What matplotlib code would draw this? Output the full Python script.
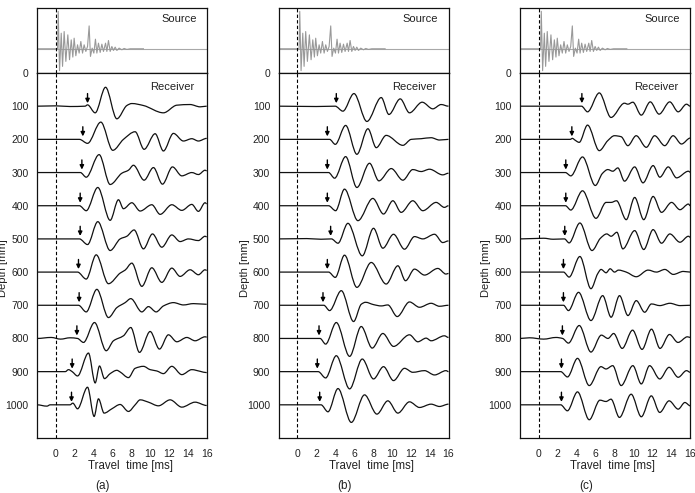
import numpy as np
import matplotlib.pyplot as plt
from matplotlib.path import Path
from matplotlib.patches import PathPatch

plt.rcParams['font.family'] = ['Liberation Sans', 'DejaVu Sans']

# profundidades de los receptores (mm)
depths = [100, 200, 300, 400, 500, 600, 700, 800, 900, 1000]

# señal de la fuente (tiempo ms, amplitud relativa)
src_t = [-2, 0.18, 0.25, 0.39, 0.57, 0.71, 0.88, 1.06, 1.27, 1.45, 1.63, 1.80, 1.94, 2.12,
         2.30, 2.47, 2.65, 2.83, 3.00, 3.18, 3.36, 3.53, 3.67, 3.85, 4.03, 4.20, 4.35,
         4.52, 4.70, 4.88, 5.05, 5.27, 5.41, 5.58, 5.76, 5.94, 6.11, 6.29, 6.47, 6.71,
         7.00, 7.24, 7.53, 7.88, 9.29]
src_a = [0, 0, 113, -66, 47, -53, 52, -38, 42, -33, 27, -25, 32, -21,
         12, -13, 22, -13, 12, -8, 7, 69, -23, 2, -13, 29, -13,
         17, -11, 14, -8, 17, -8, 25, -8, 7, -5, 5, -5, 2,
         -3, 1, -2, 0, 0]

# (a) tiempos de llegada y trazas
arr_a = [3.36, 2.86, 2.76, 2.58, 2.58, 2.40, 2.47, 2.23, 1.73, 1.66]
t_a = [
    [-2, 0, 1.5, 3.1, 3.36, 4.17, 5.27, 6.47, 7.53, 8.06, 9.29, 11.41, 12.83, 14.24, 15.3, 16],
    [-2, 2.5, 3.36, 4.77, 6.04, 7.17, 8.41, 9.36, 10.53, 11.41, 12.47, 13.53, 14.42, 15.12, 16],
    [-2, 2.6, 3.22, 4.59, 5.76, 7.0, 7.7, 8.23, 9.36, 10.35, 11.31, 12.37, 13.36, 14.42, 15.12, 15.83, 16],
    [-2, 2.5, 3.22, 4.45, 5.76, 6.64, 7.17, 8.06, 8.94, 10.18, 11.06, 12.30, 13.36, 14.42, 15.12, 15.83, 16],
    [-2, 2.5, 3.36, 4.45, 5.76, 6.82, 7.53, 8.30, 9.29, 10.25, 11.24, 12.30, 13.18, 14.06, 15.12, 15.83, 16],
    [-2, 2.3, 3.22, 4.28, 5.58, 6.82, 7.35, 8.06, 9.12, 10.18, 11.24, 12.30, 13.18, 14.24, 15.12, 15.83, 16],
    [-2, 2.4, 3.22, 4.35, 5.58, 6.47, 7.35, 7.95, 9.12, 9.82, 10.64, 11.41, 12.47, 13.53, 14.59, 16],
    [-2, -0.5, 0.5, 1.5, 2.3, 2.93, 4.10, 5.34, 6.11, 7.17, 7.95, 8.87, 10.0, 10.99, 11.94, 12.83, 13.89, 14.77, 15.83, 16],
    [-2, 1.0, 1.34, 1.73, 2.30, 3.46, 4.17, 4.63, 5.16, 5.76, 6.47, 6.82, 7.70, 8.41, 9.29, 10.0, 10.71, 11.41, 12.30, 13.36, 14.42, 15.30, 16],
    [-2, -0.95, -0.6, 1.5, 1.80, 2.30, 3.36, 4.06, 4.52, 5.12, 5.94, 6.82, 7.70, 8.41, 8.94, 9.82, 10.88, 12.12, 13.36, 14.77, 16],
]
amp_a = [
    [0, 1, -1, 0, 4, -20, 57, -38, 2, 8, 2, -20, 3, 5, -2, 0],
    [0, 0, -12, 52, -33, 0, 23, -30, 17, -35, 18, -5, 2, -5, 3],
    [0, 0, -14, 54, -36, -2, 7, 22, -23, 15, -35, 17, -10, 0, -6, 7, 5],
    [0, 0, -15, 55, -44, 18, -9, 9, -16, 3, -26, 3, -14, 4, -17, 9, 6],
    [0, 0, -17, 52, -35, 0, 8, 27, -30, 15, -25, 12, -8, 0, -5, 8, 6],
    [0, 0, -21, 52, -35, -3, 6, 27, -43, 13, -31, 12, -13, 7, -8, 7, 5],
    [0, 0, -20, 48, -37, -7, 8, 20, -20, -4, -20, -2, 8, 1, 5, 3],
    [0, 3, -2, 2, 0, -12, 48, -37, -7, 8, 33, -42, 21, -32, 11, -10, 3, -7, 5, 4],
    [0, 0, 6, 0, -13, 56, -34, 17, -21, -6, 4, -1, -18, 10, 16, 6, 2, -6, 16, -9, 6, 1, -3],
    [0, -4, 0, 0, 5, -12, 53, -35, 18, -25, -12, 1, -20, 0, 15, 8, -3, 15, -7, 8, -2],
]

# (b)
arr_b = [4.12, 3.17, 3.17, 3.17, 3.52, 3.17, 2.71, 2.29, 2.11, 2.36]
t_b = [
    [-2, 2, 4.0, 4.82, 5.99, 7.36, 8.88, 9.69, 10.89, 11.87, 13.21, 14.34, 15.22, 16],
    [-2, 3.41, 4.01, 5.11, 6.30, 7.47, 8.35, 9.40, 11.17, 12.05, 13.10, 14.16, 15.04, 16],
    [-2, 3.3, 3.94, 5.11, 6.30, 7.64, 8.63, 9.94, 11.17, 12.22, 13.10, 13.99, 15.39, 16],
    [-2, 3.3, 4.05, 4.99, 6.41, 7.99, 9.12, 10.11, 10.99, 12.22, 13.28, 14.69, 15.57, 16],
    [-2, 1.0, 2.5, 3.6, 4.30, 5.35, 6.87, 8.06, 9.05, 10.18, 11.34, 12.40, 13.28, 14.52, 15.39, 16],
    [-2, 3.3, 4.01, 4.99, 6.30, 7.82, 9.40, 10.64, 11.45, 12.40, 13.46, 14.87, 15.74, 16],
    [-2, 2.8, 3.41, 4.65, 5.95, 6.76, 7.22, 8.06, 8.88, 9.58, 10.57, 11.87, 12.93, 14.16, 15.04, 16],
    [-2, 2.4, 2.99, 4.12, 5.53, 6.76, 7.92, 9.05, 10.18, 11.87, 12.75, 13.63, 14.16, 15.57, 16],
    [-2, 2.2, 2.99, 4.12, 5.53, 6.87, 8.06, 9.12, 10.18, 11.34, 12.22, 13.46, 14.52, 15.74, 16],
    [-2, 2.5, 3.24, 4.30, 5.71, 7.11, 8.42, 9.58, 10.64, 11.87, 12.93, 14.16, 15.04, 16],
]
amp_b = [
    [0, -1, 0, -15, 38, -46, 26, -25, 22, -20, 12, -8, 5, 0],
    [0, 0, -15, 42, -45, 32, -25, 12, -18, 0, 2, 5, -2, 0],
    [0, 0, -17, 48, -45, 28, -25, 12, -23, 9, 3, 10, -7, -2],
    [0, 0, -15, 50, -45, 22, -25, 15, -20, 15, -15, 10, -5, 0],
    [0, 1, -1, 0, -13, 47, -51, 32, -28, 14, -31, 7, 0, 14, -11, -6],
    [0, 0, -16, 51, -46, 29, -36, 19, -26, 9, -9, 11, -6, -4],
    [0, 0, -16, 44, -49, 3, 9, 2, -2, 1, -34, 10, -6, 6, -3, 0],
    [0, 0, -17, 48, -54, 36, -29, 15, -24, 11, -10, 1, -7, 8, 3],
    [0, 0, -19, 48, -52, 38, -22, 15, -27, 10, -2, 3, -10, 3, 0],
    [0, 0, -21, 49, -53, 30, -28, 12, -25, 9, -8, 2, -5, 2],
]

# (c)
arr_c = [4.54, 3.48, 2.84, 2.84, 2.73, 2.59, 2.59, 2.48, 2.38, 2.38]
t_c = [
    [-2, 4.5, 5.14, 6.38, 7.62, 9.04, 9.40, 9.93, 10.82, 11.77, 12.70, 13.83, 14.72, 15.60, 16],
    [-2, 3.3, 3.55, 3.75, 4.26, 5.14, 6.38, 7.27, 7.98, 8.69, 9.40, 10.28, 11.35, 12.23, 13.30, 14.18, 15.07, 16],
    [-2, 2.8, 3.37, 4.61, 5.96, 6.7, 7.28, 7.81, 8.34, 9.05, 10.12, 11.0, 12.07, 12.78, 13.67, 14.55, 15.8, 16],
    [-2, 2.8, 3.37, 4.61, 6.03, 7.1, 7.63, 8.2, 9.23, 10.12, 11.08, 12.07, 12.96, 14.02, 14.91, 15.8, 16],
    [-2, 0.5, 1.5, 2.7, 3.19, 4.33, 5.61, 6.5, 7.17, 7.63, 8.24, 8.87, 10.12, 11.08, 12.07, 12.96, 13.84, 14.91, 15.80, 16],
    [-2, 2.6, 3.19, 4.33, 5.50, 6.21, 6.57, 7.10, 7.53, 7.99, 8.41, 9.23, 10.29, 11.54, 12.42, 13.31, 14.2, 15.26, 16],
    [-2, 2.6, 3.12, 4.19, 5.5, 6.74, 7.63, 8.52, 9.41, 10.29, 11.18, 11.89, 12.78, 13.84, 14.91, 16],
    [-2, -1, 0.5, 1.8, 2.5, 3.12, 4.26, 5.5, 6.6, 7.3, 7.9, 8.8, 9.9, 10.9, 11.9, 12.8, 13.8, 14.7, 15.7, 16],
    [-2, 2.3, 3.02, 4.08, 5.32, 6.56, 7.09, 7.80, 8.69, 9.93, 10.82, 11.70, 12.77, 13.76, 14.72, 15.60, 16],
    [-2, 2.3, 3.01, 4.08, 5.32, 6.45, 7.09, 7.62, 8.51, 9.75, 10.82, 11.88, 12.77, 13.76, 14.72, 15.43, 16],
]
amp_c = [
    [0, 0, -17, 40, -34, 9, 6, 12, -27, 13, -24, 13, -17, 6, 0],
    [0, 0, 3, -1, -9, 43, -34, -4, 11, 8, -19, 11, -24, 11, -19, 11, -14, 4],
    [0, 0, -10, 47, -39, -3, 9, 4, 14, -26, 17, -31, 21, -14, 17, -16, 4, 1],
    [0, 0, -13, 45, -38, 10, 10, 15, -42, 25, -42, 28, -20, 10, -12, 5, 0],
    [0, 2, -1, 0, -12, 48, -35, 2, 15, 8, 20, -30, 25, -32, 28, -13, 15, -10, 8, 5],
    [0, 0, -15, 47, -50, -5, 8, -2, 10, 0, 6, 0, -14, 6, 0, 8, -7, 2, 0],
    [0, 0, -16, 39, -46, 29, -36, 29, -31, 14, -21, 4, -1, 6, -1, 0],
    [0, 2, -2, 3, 0, -14, 39, -41, 10, 0, 15, -30, 25, -33, 28, -30, 12, -12, 5, 3],
    [0, 0, -16, 40, -42, 15, 8, 18, -42, 18, -37, 18, -22, 13, -17, 3, -2],
    [0, 0, -18, 39, -45, 14, 10, 17, -38, 32, -36, 27, -23, 12, -13, 7, -3],
]

panels = [("(a)", arr_a, t_a, amp_a, 37, 206.7),
          ("(b)", arr_b, t_b, amp_b, 278.5, 448.5),
          ("(c)", arr_c, t_c, amp_c, 520, 690.3)]

W, H = 695, 493
fig = plt.figure(figsize=(W/100, H/100), dpi=100)
txt_color = '#222222'


def add_px_axes(x0, y0, x1, y1):
    return fig.add_axes([x0/W, 1 - y1/H, (x1 - x0)/W, (y1 - y0)/H])


def smooth_line(ax, t, y, **kw):
    # curva suave que pasa por los puntos leídos
    t = np.asarray(t, float)
    y = np.asarray(y, float)
    sec = np.diff(y) / np.diff(t)
    m = np.zeros(len(t))
    for i in range(1, len(t) - 1):
        if sec[i-1] * sec[i] > 0:
            m[i] = 2 / (1/sec[i-1] + 1/sec[i])
    verts = [(t[0], y[0])]
    codes = [Path.MOVETO]
    for i in range(len(t) - 1):
        h = (t[i+1] - t[i]) / 3
        verts += [(t[i] + h, y[i] + m[i]*h), (t[i+1] - h, y[i+1] - m[i+1]*h), (t[i+1], y[i+1])]
        codes += [Path.CURVE4] * 3
    ax.add_patch(PathPatch(Path(verts, codes), fill=False, **kw))


for name, arr, ts, amps, x0, x1 in panels:
    # FUENTE
    axs = add_px_axes(x0, 8, x1, 73)
    axs.axhline(0, color='#a8a8a8', lw=0.8)
    axs.plot(src_t, src_a, color='#999999', lw=0.8)
    axs.axvline(0, color='k', ls=(0, (3, 2)), lw=0.8)
    axs.set_xlim(-2, 16)
    axs.set_ylim(-73, 123)
    axs.set_xticks([])
    axs.set_yticks([])
    axs.text(0.94, 0.83, "Source", transform=axs.transAxes, ha='right', va='center',
             fontsize=8, color=txt_color)

    # RECEPTOR
    ax = add_px_axes(x0, 73, x1, 438)
    ax.axvline(0, color='k', ls=(0, (3, 2)), lw=0.8)
    for d, ta, t, a in zip(depths, arr, ts, amps):
        smooth_line(ax, t, [d - v for v in a], color='#111111', lw=0.9)
        ax.annotate('', xy=(ta, d - 9), xytext=(ta, d - 38),
                    arrowprops=dict(arrowstyle='-|>', color='k', lw=1.0,
                                    mutation_scale=6, shrinkA=0, shrinkB=0))
    ax.text(0.93, 0.962, "Receiver", transform=ax.transAxes, ha='right', va='center',
            fontsize=8, color=txt_color)
    ax.set_xlim(-2, 16)
    ax.set_ylim(1100, 0)
    ax.set_xticks(range(0, 17, 2))
    ax.set_yticks(range(0, 1001, 100))
    ax.tick_params(length=0, labelsize=7.5, labelcolor=txt_color)
    ax.tick_params(axis='x', pad=8)
    ax.tick_params(axis='y', pad=6)
    for a_ in (ax, axs):
        for sp in a_.spines.values():
            sp.set_linewidth(0.9)
            sp.set_color('#111111')

    fig.text((x0 + 93)/W, 1 - 466/H, "Travel  time [ms]", ha='center', va='center',
             fontsize=8.3, color=txt_color)
    fig.text((x0 + 66)/W, 1 - 486/H, name, ha='center', va='center', fontsize=8.5, color=txt_color)
    fig.text((x0 - 34)/W, 1 - 268/H, "Depth [mm]", rotation=90, ha='center', va='center',
             fontsize=8, color=txt_color)

fig.savefig("out.png", dpi=100)
